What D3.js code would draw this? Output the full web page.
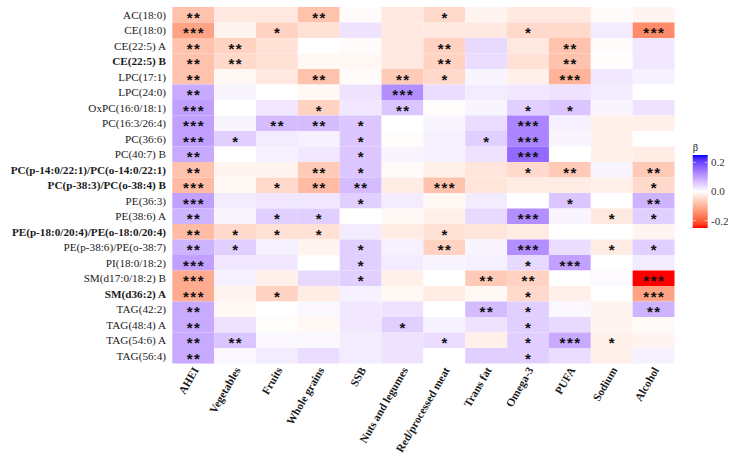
<!DOCTYPE html>
<html>
<head>
<meta charset="utf-8">
<script src="https://cdn.jsdelivr.net/npm/d3@7"></script>
<style>
  body { margin: 0; background: #fff; }
  text { font-family: "Liberation Serif", "Times New Roman", serif; }
</style>
</head>
<body>
<script>
width = 738
height = 454

// diet components (columns)
diets = ["AHEI", "Vegetables", "Fruits", "Whole grains", "SSB", "Nuts and legumes",
  "Red/processed meat", "Trans fat", "Omega-3", "PUFA", "Sodium", "Alcohol"]

// lipid species (rows), bold ones flagged separately
lipids = ["AC(18:0)", "CE(18:0)", "CE(22:5) A", "CE(22:5) B", "LPC(17:1)", "LPC(24:0)",
  "OxPC(16:0/18:1)", "PC(16:3/26:4)", "PC(36:6)", "PC(40:7) B",
  "PC(p-14:0/22:1)/PC(o-14:0/22:1)", "PC(p-38:3)/PC(o-38:4) B", "PE(36:3)", "PE(38:6) A",
  "PE(p-18:0/20:4)/PE(o-18:0/20:4)", "PE(p-38:6)/PE(o-38:7)", "PI(18:0/18:2)",
  "SM(d17:0/18:2) B", "SM(d36:2) A", "TAG(42:2)", "TAG(48:4) A", "TAG(54:6) A", "TAG(56:4)"]
boldLipids = ["CE(22:5) B", "PC(p-14:0/22:1)/PC(o-14:0/22:1)", "PC(p-38:3)/PC(o-38:4) B",
  "PE(p-18:0/20:4)/PE(o-18:0/20:4)", "SM(d36:2) A"]

// beta estimates, one row per lipid, columns in diets order
beta = [
  [-0.08, -0.03, -0.03, -0.08, -0.005, -0.03, -0.05, -0.015, -0.03, -0.03, -0.005, -0.015],
  [-0.12, -0.015, -0.06, -0.04, 0.03, -0.03, -0.03, -0.03, -0.05, -0.05, 0.02, -0.15],
  [-0.08, -0.06, -0.04, 0.0, -0.005, -0.03, -0.06, 0.04, -0.03, -0.08, -0.005, 0.025],
  [-0.08, -0.05, -0.04, -0.01, -0.01, -0.03, -0.06, 0.035, -0.04, -0.08, -0.002, 0.025],
  [-0.08, -0.01, -0.03, -0.08, -0.005, -0.07, -0.05, 0.01, -0.02, -0.1, 0.025, 0.015],
  [0.09, 0.01, 0.0, -0.01, 0.03, 0.12, 0.035, 0.02, 0.025, 0.03, 0.02, 0.0],
  [0.1, 0.0, 0.025, -0.06, 0.025, 0.06, -0.003, 0.01, 0.05, 0.06, 0.01, 0.03],
  [0.1, 0.01, 0.07, 0.07, 0.06, 0.0, 0.01, 0.035, 0.13, 0.015, -0.02, -0.02],
  [0.1, 0.05, 0.02, 0.015, 0.06, -0.003, 0.015, 0.05, 0.13, 0.01, -0.02, 0.0],
  [0.09, 0.0, 0.015, 0.025, 0.06, 0.01, 0.015, 0.03, 0.16, 0.0, -0.02, -0.025],
  [-0.08, -0.015, -0.015, -0.07, 0.06, -0.005, -0.02, -0.035, -0.05, -0.07, 0.01, -0.07],
  [-0.09, -0.01, -0.05, -0.09, 0.07, -0.025, -0.08, -0.035, -0.025, -0.025, -0.02, -0.05],
  [0.1, 0.02, 0.025, 0.025, 0.05, 0.02, -0.01, 0.02, 0.0, 0.06, 0.0, 0.08],
  [0.08, 0.01, 0.05, 0.05, 0.0, -0.01, -0.02, 0.04, 0.12, 0.01, -0.03, 0.05],
  [-0.09, -0.05, -0.04, -0.04, 0.02, -0.025, -0.04, -0.035, -0.025, 0.0, 0.0, -0.015],
  [0.08, 0.05, 0.015, -0.015, 0.05, 0.015, -0.06, 0.01, 0.12, 0.035, -0.025, 0.05],
  [0.1, 0.025, 0.025, 0.0, 0.05, 0.02, 0.01, 0.015, 0.04, 0.1, 0.0, 0.02],
  [-0.11, 0.015, -0.02, 0.04, 0.05, -0.02, 0.0, -0.07, -0.06, 0.0, 0.005, -0.25],
  [-0.11, -0.015, -0.06, -0.025, 0.015, -0.01, -0.025, -0.01, -0.05, -0.02, 0.0, -0.12],
  [0.09, -0.01, 0.0, 0.008, 0.025, 0.03, 0.0, 0.07, 0.05, 0.008, -0.015, 0.08],
  [0.09, 0.03, -0.003, -0.01, 0.025, 0.05, 0.015, 0.03, 0.05, 0.04, -0.015, -0.008],
  [0.09, 0.06, 0.008, 0.008, 0.02, 0.03, 0.035, -0.02, 0.05, 0.09, -0.02, -0.015],
  [0.09, 0.008, 0.02, 0.035, 0.02, 0.03, 0.0, 0.05, 0.05, 0.035, -0.02, 0.015]
]

// significance stars, same layout as beta
stars = [
  ["**", "", "", "**", "", "", "*", "", "", "", "", ""],
  ["***", "", "*", "", "", "", "", "", "*", "", "", "***"],
  ["**", "**", "", "", "", "", "**", "", "", "**", "", ""],
  ["**", "**", "", "", "", "", "**", "", "", "**", "", ""],
  ["**", "", "", "**", "", "**", "*", "", "", "***", "", ""],
  ["**", "", "", "", "", "***", "", "", "", "", "", ""],
  ["***", "", "", "*", "", "**", "", "", "*", "*", "", ""],
  ["***", "", "**", "**", "*", "", "", "", "***", "", "", ""],
  ["***", "*", "", "", "*", "", "", "*", "***", "", "", ""],
  ["**", "", "", "", "*", "", "", "", "***", "", "", ""],
  ["**", "", "", "**", "*", "", "", "", "*", "**", "", "**"],
  ["***", "", "*", "**", "**", "", "***", "", "", "", "", "*"],
  ["***", "", "", "", "*", "", "", "", "", "*", "", "**"],
  ["**", "", "*", "*", "", "", "", "", "***", "", "*", "*"],
  ["**", "*", "*", "*", "", "", "*", "", "", "", "", ""],
  ["**", "*", "", "", "*", "", "**", "", "***", "", "*", "*"],
  ["***", "", "", "", "*", "", "", "", "*", "***", "", ""],
  ["***", "", "", "", "*", "", "", "**", "**", "", "", "***"],
  ["***", "", "*", "", "", "", "", "", "*", "", "", "***"],
  ["**", "", "", "", "", "", "", "**", "*", "", "", "**"],
  ["**", "", "", "", "", "*", "", "", "*", "", "", ""],
  ["**", "**", "", "", "", "", "*", "", "*", "***", "*", ""],
  ["**", "", "", "", "", "", "", "", "*", "", "", ""]
]

legendTicks = [0.2, 0.0, -0.2]
limit = 0.25

cells = []
lipids.forEach(function(l, i) {
  diets.forEach(function(d, j) {
    cells.push({lipid: l, diet: d, beta: beta[i][j], star: stars[i][j]})
  })
})

// red - white - blue, interpolated in Lab like gradient2
function fillColor(v) {
  t = Math.max(-1, Math.min(1, v / limit))
  if (t >= 0) return d3.interpolateLab("#ffffff", "#0000ff")(t)
  return d3.interpolateLab("#ffffff", "#ff0000")(-t)
}

svg = d3.select("body")
  .append("svg")
  .attr("width", width)
  .attr("height", height)

x = d3.scaleBand().domain(diets).range([172.3, 674.5])
y = d3.scaleBand().domain(lipids).range([7, 363.5])

svg.selectAll("rect.cell")
  .data(cells)
  .enter()
  .append("rect")
  .attr("class", "cell")
  .attr("x", d => x(d.diet))
  .attr("y", d => y(d.lipid))
  .attr("width", x.bandwidth())
  .attr("height", y.bandwidth())
  .attr("fill", d => fillColor(d.beta))

svg.selectAll("text.star")
  .data(cells.filter(d => d.star != ""))
  .enter()
  .append("text")
  .attr("class", "star")
  .attr("x", d => x(d.diet) + x.bandwidth() / 2 + 0.75)
  .attr("y", d => y(d.lipid) + y.bandwidth() / 2 + 8)
  .attr("text-anchor", "middle")
  .style("font-family", "'Liberation Sans', Arial, sans-serif")
  .style("font-weight", "bold")
  .style("font-size", "15px")
  .style("letter-spacing", "1.5px")
  .attr("fill", "#111")
  .text(d => d.star)

// row labels
svg.selectAll("text.row")
  .data(lipids)
  .enter()
  .append("text")
  .attr("class", "row")
  .attr("x", 166)
  .attr("y", d => y(d) + y.bandwidth() / 2)
  .attr("dy", "0.35em")
  .attr("text-anchor", "end")
  .style("font-size", "11.2px")
  .style("font-weight", d => boldLipids.includes(d) ? "bold" : "normal")
  .attr("fill", "#1a1a1a")
  .text(d => d)

// column labels, rotated
svg.selectAll("text.col")
  .data(diets)
  .enter()
  .append("text")
  .attr("class", "col")
  .attr("transform", d => "translate(" + (x(d) + x.bandwidth() / 2 - 1) + ",366) rotate(-60)")
  .attr("dy", "0.7em")
  .attr("text-anchor", "end")
  .style("font-size", "11.3px")
  .style("font-weight", "bold")
  .attr("fill", "#1a1a1a")
  .text(d => d)

// legend
legY = d3.scaleLinear().domain([limit, -limit]).range([155, 228])
grad = svg.append("defs").append("linearGradient")
  .attr("id", "betagrad")
  .attr("x1", 0).attr("x2", 0).attr("y1", 0).attr("y2", 1)
grad.selectAll("stop")
  .data(d3.range(0, 21))
  .enter()
  .append("stop")
  .attr("offset", d => d / 20)
  .attr("stop-color", d => fillColor(limit - d / 20 * 2 * limit))

svg.append("rect")
  .attr("x", 692.7)
  .attr("y", legY(limit))
  .attr("width", 15)
  .attr("height", legY(-limit) - legY(limit))
  .attr("fill", "url(#betagrad)")

legendTicks.forEach(function(t) {
  svg.append("line")
    .attr("x1", 692.7).attr("x2", 695.7)
    .attr("y1", legY(t)).attr("y2", legY(t))
    .attr("stroke", "#fff").attr("stroke-width", 0.6)
  svg.append("line")
    .attr("x1", 704.7).attr("x2", 707.7)
    .attr("y1", legY(t)).attr("y2", legY(t))
    .attr("stroke", "#fff").attr("stroke-width", 0.6)
})

svg.selectAll("text.leg")
  .data(legendTicks)
  .enter()
  .append("text")
  .attr("class", "leg")
  .attr("x", 711)
  .attr("y", d => legY(d))
  .attr("dy", "0.35em")
  .style("font-size", "11px")
  .attr("fill", "#333")
  .text(d => d.toFixed(1))

svg.append("text")
  .attr("x", 692.7)
  .attr("y", 151)
  .style("font-size", "10.5px")
  .attr("fill", "#1a1a1a")
  .text("β")
</script>
</body>
</html>
